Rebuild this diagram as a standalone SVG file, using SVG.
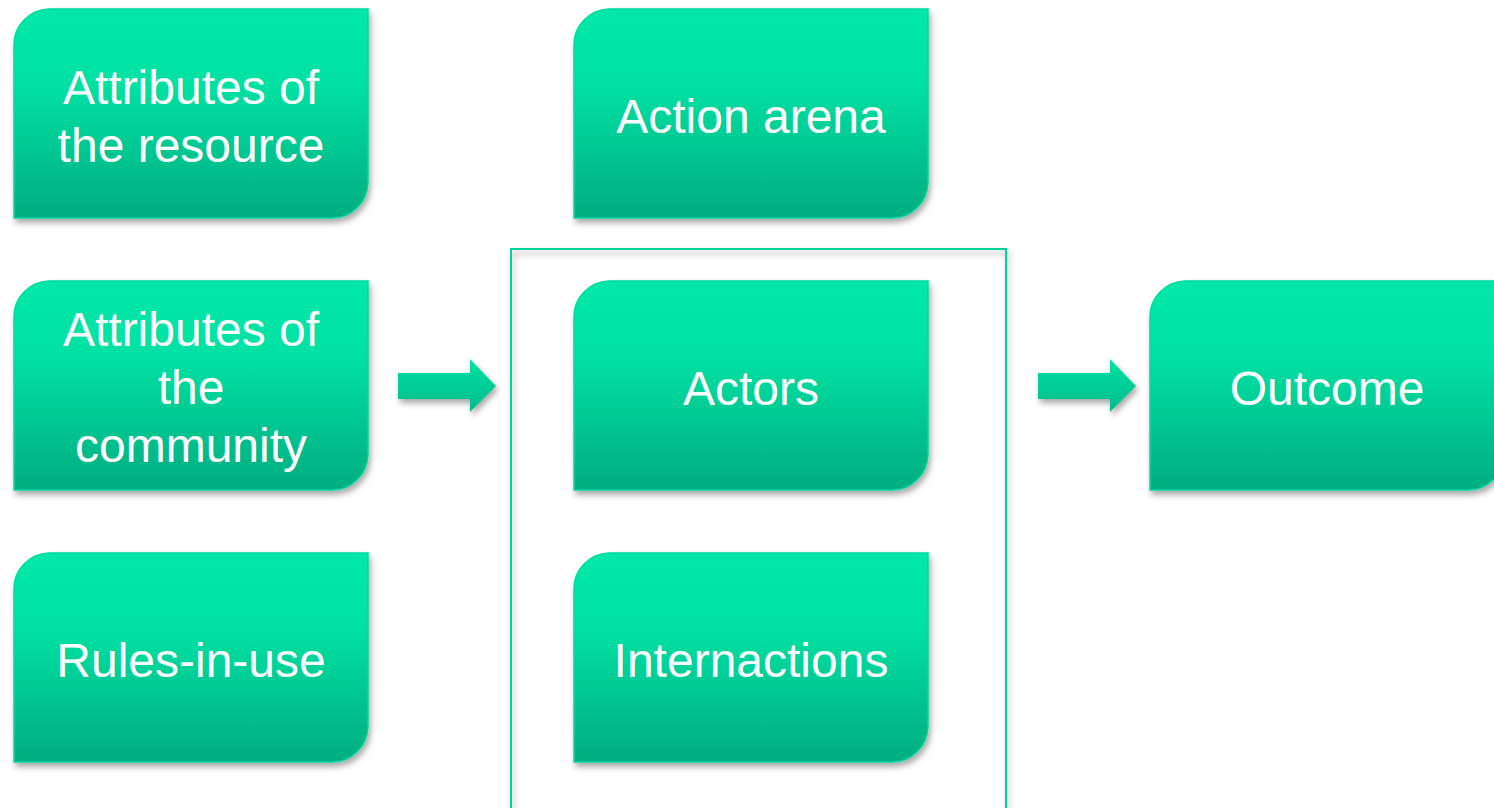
<svg xmlns="http://www.w3.org/2000/svg" width="1494" height="808" viewBox="0 0 1494 808">
  <defs>
    <linearGradient id="boxFill" x1="0" y1="0" x2="0" y2="1">
      <stop offset="0" stop-color="#00E8A8"/>
      <stop offset="0.35" stop-color="#00E2A3"/>
      <stop offset="1" stop-color="#00AD80"/>
    </linearGradient>
    <linearGradient id="arrowFill" x1="0" y1="0" x2="0" y2="1">
      <stop offset="0" stop-color="#00E2A3"/>
      <stop offset="1" stop-color="#00BB8A"/>
    </linearGradient>
    <filter id="shadow" x="-10%" y="-10%" width="125%" height="130%">
      <feGaussianBlur in="SourceAlpha" stdDeviation="3"/>
      <feOffset dx="2" dy="4" result="b"/>
      <feComponentTransfer><feFuncA type="linear" slope="0.35"/></feComponentTransfer>
      <feMerge><feMergeNode/><feMergeNode in="SourceGraphic"/></feMerge>
    </filter>
    <!-- box with rounded top-left and bottom-right corners, 354 x 209 -->
    <path id="box" d="M0,36 A36,36 0 0 1 36,0 H354 V173 A36,36 0 0 1 318,209 H0 Z"/>
    <path id="arrow" d="M0,14 H72 V0 L98,27 L72,53 V40 H0 Z"/>
  </defs>
  <style>
    .node use { fill: url(#boxFill); stroke: #00D99D; stroke-width: 1.5; filter: url(#shadow); }
    .label { font-family: "Liberation Sans", Arial, sans-serif; font-size: 48px; fill: #FFFFFF; text-anchor: middle; }
    .arrow { fill: url(#arrowFill); filter: url(#shadow); }
    .frame { fill: none; stroke: #00D49A; stroke-width: 2; filter: url(#shadow); }
  </style>

  <rect width="1494" height="808" fill="#FFFFFF"/>

  <!-- action arena frame -->
  <rect class="frame" x="511" y="249" width="495" height="600"/>

  <g id="attr-resource" class="node">
    <use href="#box" x="14" y="9"/>
    <text class="label" x="191" y="104">Attributes of</text>
    <text class="label" x="191" y="162">the resource</text>
  </g>

  <g id="action-arena" class="node">
    <use href="#box" x="574" y="9"/>
    <text class="label" x="751" y="133">Action arena</text>
  </g>

  <g id="attr-community" class="node">
    <use href="#box" x="14" y="281"/>
    <text class="label" x="191" y="346">Attributes of</text>
    <text class="label" x="191" y="404">the</text>
    <text class="label" x="191" y="462">community</text>
  </g>

  <g id="actors" class="node">
    <use href="#box" x="574" y="281"/>
    <text class="label" x="751" y="405">Actors</text>
  </g>

  <g id="outcome" class="node">
    <use href="#box" x="1150" y="281"/>
    <text class="label" x="1327" y="405">Outcome</text>
  </g>

  <g id="rules-in-use" class="node">
    <use href="#box" x="14" y="553"/>
    <text class="label" x="191" y="677">Rules-in-use</text>
  </g>

  <g id="interactions" class="node">
    <use href="#box" x="574" y="553"/>
    <text class="label" x="751" y="677">Internactions</text>
  </g>

  <g id="connectors">
    <use class="arrow" href="#arrow" x="398" y="359"/>
    <use class="arrow" href="#arrow" x="1038" y="359"/>
  </g>
</svg>
